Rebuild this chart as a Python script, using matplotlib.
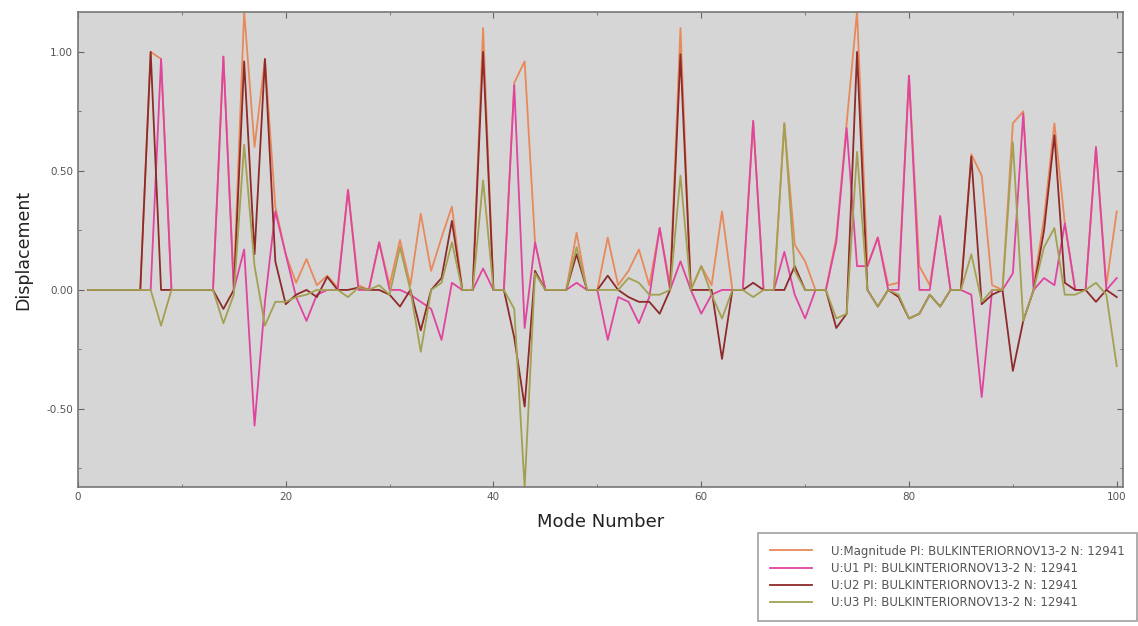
import matplotlib
matplotlib.use("Agg")
import matplotlib.pyplot as plt
from matplotlib.ticker import MultipleLocator, FormatStrFormatter

modes = list(range(1, 101))

u_mag = [0, 0, 0, 0, 0, 0, 1.00, 0.97, 0, 0,
         0, 0, 0, 0.98, 0.02, 1.17, 0.60, 0.97, 0.35, 0.15,
         0.03, 0.13, 0.02, 0.06, 0.01, 0.42, 0.02, 0.0, 0.20, 0.02,
         0.21, 0.02, 0.32, 0.08, 0.22, 0.35, 0, 0, 1.10, 0,
         0, 0.87, 0.96, 0.20, 0, 0, 0, 0.24, 0, 0,
         0.22, 0.02, 0.08, 0.17, 0.02, 0.26, 0.02, 1.10, 0, 0.10,
         0.02, 0.33, 0, 0, 0.71, 0, 0, 0.70, 0.19, 0.12,
         0, 0, 0.22, 0.70, 1.17, 0.10, 0.22, 0.02, 0.03, 0.90,
         0.10, 0.02, 0.31, 0, 0, 0.57, 0.48, 0.02, 0, 0.70,
         0.75, 0.02, 0.30, 0.70, 0.28, 0.0, 0.0, 0.60, 0.02, 0.33]

u_u1 = [0, 0, 0, 0, 0, 0, 0.0, 0.97, 0, 0,
        0, 0, 0, 0.98, 0.0, 0.17, -0.57, -0.05, 0.33, 0.15,
        -0.03, -0.13, -0.02, 0.0, 0.0, 0.42, 0.0, 0.0, 0.20, 0.0,
        0.0, -0.02, -0.05, -0.08, -0.21, 0.03, 0, 0, 0.09, 0,
        0, 0.86, -0.16, 0.20, 0, 0, 0, 0.03, 0, 0,
        -0.21, -0.03, -0.05, -0.14, -0.03, 0.26, 0.0, 0.12, 0, -0.10,
        -0.02, 0.0, 0, 0, 0.71, 0, 0, 0.16, -0.02, -0.12,
        0, 0, 0.20, 0.68, 0.10, 0.10, 0.22, 0.0, 0.0, 0.90,
        0.0, 0.0, 0.31, 0, 0, -0.02, -0.45, 0.0, 0, 0.07,
        0.74, 0.0, 0.05, 0.02, 0.28, 0.0, 0.0, 0.60, 0.0, 0.05]

u_u2 = [0, 0, 0, 0, 0, 0, 1.00, 0.0, 0, 0,
        0, 0, 0, -0.08, 0.0, 0.96, 0.15, 0.97, 0.12, -0.06,
        -0.02, 0.0, -0.03, 0.055, 0.0, 0.0, 0.01, 0.0, 0.0, -0.02,
        -0.07, 0.0, -0.17, 0.0, 0.05, 0.29, 0, 0, 1.00, 0,
        0, -0.20, -0.49, 0.08, 0, 0, 0, 0.15, 0, 0,
        0.06, 0.0, -0.03, -0.05, -0.05, -0.10, 0.0, 0.99, 0, 0.0,
        0.0, -0.29, 0, 0, 0.03, 0, 0, 0.0, 0.10, 0.0,
        0, 0, -0.16, -0.10, 1.00, 0.0, -0.07, 0.0, -0.03, -0.12,
        -0.10, -0.02, -0.07, 0, 0, 0.56, -0.06, -0.02, 0, -0.34,
        -0.13, 0.0, 0.25, 0.65, 0.03, 0.0, 0.0, -0.05, 0.0, -0.03]

u_u3 = [0, 0, 0, 0, 0, 0, 0.0, -0.15, 0, 0,
        0, 0, 0, -0.14, -0.02, 0.61, 0.10, -0.15, -0.05, -0.05,
        -0.03, -0.02, 0.0, 0.0, 0.0, -0.03, 0.01, 0.0, 0.02, -0.02,
        0.18, 0.0, -0.26, 0.0, 0.03, 0.20, 0, 0, 0.46, 0,
        0, -0.08, -0.83, 0.07, 0, 0, 0, 0.18, 0, 0,
        0.0, 0.0, 0.05, 0.03, -0.02, -0.02, 0.0, 0.48, 0, 0.10,
        -0.02, -0.12, 0, 0, -0.03, 0, 0, 0.70, 0.08, 0.0,
        0, 0, -0.12, -0.10, 0.58, 0.0, -0.07, 0.0, -0.02, -0.12,
        -0.10, -0.02, -0.07, 0, 0, 0.15, -0.05, 0.0, 0, 0.62,
        -0.13, 0.0, 0.18, 0.26, -0.02, -0.02, 0.0, 0.03, -0.02, -0.32]

labels = ["U:Magnitude PI: BULKINTERIORNOV13-2 N: 12941",
          "U:U1 PI: BULKINTERIORNOV13-2 N: 12941",
          "U:U2 PI: BULKINTERIORNOV13-2 N: 12941",
          "U:U3 PI: BULKINTERIORNOV13-2 N: 12941"]
colors = ["#e8895a", "#e0449e", "#8e2a2a", "#a3a052"]

fig = plt.figure(figsize=(11.38, 6.26), dpi=100)
ax = fig.add_axes([0.0685, 0.222, 0.9183, 0.759])
ax.set_facecolor("#d6d6d6")

series = [u_mag, u_u1, u_u2, u_u3]
handles = []
for vals, col, lab in zip(series, colors, labels):
    h, = ax.plot(modes, vals, color=col, lw=1.3, label=lab)
    handles.append(h)

ax.set_xlim(0, 100.6)
ax.set_ylim(-0.828, 1.168)
ax.xaxis.set_major_locator(MultipleLocator(20))
ax.xaxis.set_minor_locator(MultipleLocator(10))
ax.yaxis.set_major_locator(MultipleLocator(0.5))
ax.yaxis.set_minor_locator(MultipleLocator(0.25))
ax.yaxis.set_major_formatter(FormatStrFormatter("%.2f"))
ax.tick_params(which="both", direction="in", top=True, right=True,
               colors="#666666", labelcolor="#555555", labelsize=7.5)
ax.tick_params(which="major", length=4)
ax.tick_params(which="minor", length=2.5)
for s in ax.spines.values():
    s.set_color("#777777")
    s.set_linewidth(1.2)

ax.set_xlabel("Mode Number", fontsize=13, color="#222222", labelpad=8)
ax.set_ylabel("Displacement", fontsize=12.5, color="#222222", labelpad=10)

leg = fig.legend(handles=handles, loc="upper left",
                 bbox_to_anchor=(0.666, 0.149), fontsize=8.5,
                 handlelength=3.6, handletextpad=1.6, labelspacing=0.36,
                 borderpad=1.0, fancybox=False, frameon=True, borderaxespad=0)
leg.get_frame().set_edgecolor("#888888")
leg.get_frame().set_linewidth(1.2)
for t in leg.get_texts():
    t.set_color("#555555")

fig.savefig("out.png", dpi=100)
